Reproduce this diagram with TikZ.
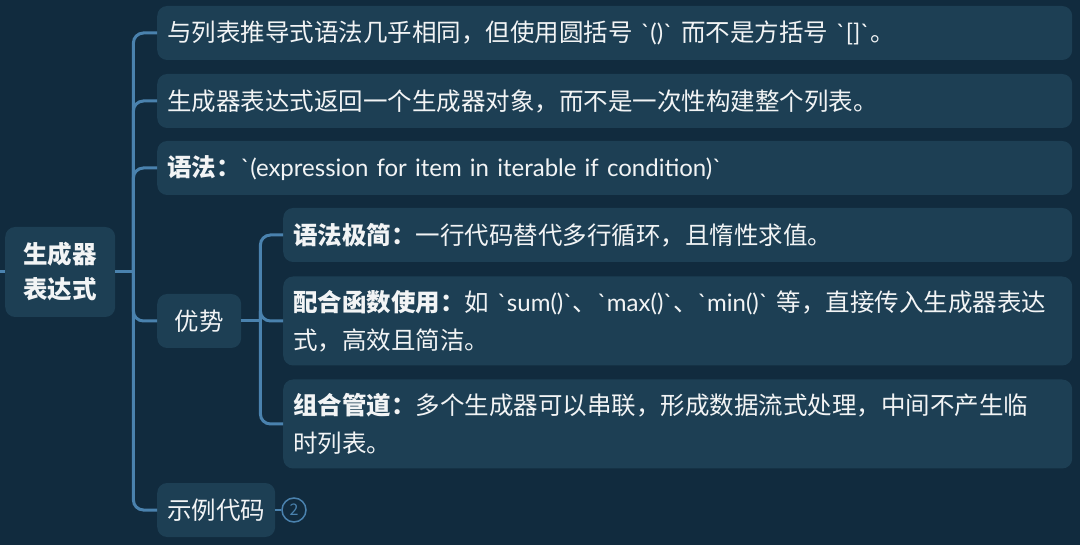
\documentclass[tikz,border=0pt]{standalone}
\usepackage{fontspec}
\newfontfamily\cjk{Noto Sans CJK SC}
\newfontfamily\latin{Lato}
\usetikzlibrary{positioning}

\definecolor{bgcol}{HTML}{112B3E}
\definecolor{boxcol}{HTML}{1D3F54}
\definecolor{linecol}{HTML}{4A82AE}
\definecolor{txtcol}{HTML}{F2F4F5}

% latin code spans
\newcommand\code[1]{{\latin\fontsize{24}{38}\selectfont #1}}

\tikzset{
  topic/.style={fill=boxcol, rounded corners=10pt, text=txtcol, anchor=west,
    font=\cjk\fontsize{24.5}{38}\selectfont, inner xsep=10pt, inner ysep=0pt, align=left},
  leaf/.style={topic, text width=#1, minimum height=54pt},
  link/.style={draw=linecol, line width=3pt, rounded corners=10pt},
}

\begin{document}
\begin{tikzpicture}[x=1pt,y=-1pt]
\useasboundingbox (0,0) rectangle (1080,545);
\fill[bgcol] (0,0) rectangle (1080,545);

% root
\node[topic, minimum width=110pt, minimum height=90pt, align=center, inner xsep=0pt,
  font=\cjk\bfseries\fontsize{24.5}{35}\selectfont] (root) at (5,272) {生成器\\表达式};
\coordinate (in) at (0,272);
\draw[link] (in) -- (root.west);

% first level
\node[leaf=895pt] (c1) at (157,33) {与列表推导式语法几乎相同，但使用圆括号~\code{`()`}~而不是方括号~\code{`[]`}。};
\node[leaf=895pt] (c2) at (157,101) {生成器表达式返回一个生成器对象，而不是一次性构建整个列表。};
\node[leaf=895pt] (c3) at (157,168) {\textbf{语法：}\code{`(expression for item in iterable if condition)`}};
\node[topic, minimum height=54pt, minimum width=84pt, align=center] (adv) at (157,321) {优势};
\node[topic, minimum height=54pt, minimum width=118pt, align=center] (ex) at (157,510) {示例代码};
\node[circle, draw=linecol, line width=1.5pt, text=linecol, minimum size=24pt, inner sep=0pt,
  font=\cjk\fontsize{16}{16}\selectfont] (cnt) at (294,510) {2};
\draw[linecol, line width=1.5pt] (ex.east) -- (cnt.west);

\coordinate (t1) at ([xshift=18pt]root.east);
\draw[link] (root.east) -- (t1);
\foreach \c in {c1,c2,c3,adv,ex}
  \draw[link] (t1) |- (\c.west);

% second level
\node[leaf=769pt] (g1) at (283,235) {\textbf{语法极简：}一行代码替代多行循环，且惰性求值。};
\node[leaf=769pt, minimum height=89pt] (g2) at (283,321) {\textbf{配合函数使用：}如~\code{`sum()`}、\code{`max()`}、\code{`min()`}~等，直接传入生成器表达\\式，高效且简洁。};
\node[leaf=769pt, minimum height=89pt] (g3) at (283,424) {\textbf{组合管道：}多个生成器可以串联，形成数据流式处理，中间不产生临\\时列表。};

\coordinate (t2) at ([xshift=19pt]adv.east);
\draw[link] (adv.east) -- (t2);
\foreach \g in {g1,g2,g3}
  \draw[link] (t2) |- (\g.west);
\end{tikzpicture}
\end{document}
